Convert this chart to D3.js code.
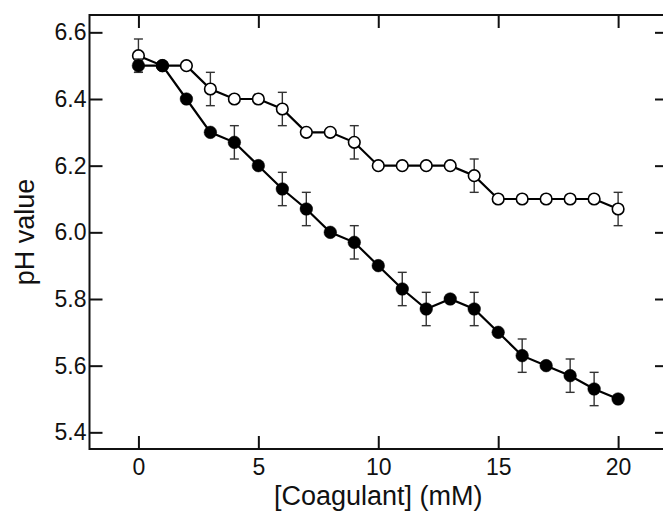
<!DOCTYPE html>
<html>
<head>
<meta charset="utf-8">
<script src="https://cdn.jsdelivr.net/npm/d3@7"></script>
<style>
  html, body { margin: 0; padding: 0; background: #fff; }
  svg { display: block; }
  text { font-family: "Liberation Sans", Arial, Helvetica, sans-serif; fill: #111; }
</style>
</head>
<body>
<svg id="chart" width="663" height="513"></svg>
<script>
// ---- data ----
const concentrations = [0,1,2,3,4,5,6,7,8,9,10,11,12,13,14,15,16,17,18,19,20];
const filledValues = [6.50,6.50,6.40,6.30,6.27,6.20,6.13,6.07,6.00,5.97,5.90,5.83,5.77,5.80,5.77,5.70,5.63,5.60,5.57,5.53,5.50];
const filledErrors = [0.02,0,0,0,0.05,0,0.05,0.05,0,0.05,0,0.05,0.05,0,0.05,0,0.05,0,0.05,0.05,0];
const openValues = [6.53,6.50,6.50,6.43,6.40,6.40,6.37,6.30,6.30,6.27,6.20,6.20,6.20,6.20,6.17,6.10,6.10,6.10,6.10,6.10,6.07];
const openErrors = [0.05,0,0,0.05,0,0,0.05,0,0,0.05,0,0,0,0,0.05,0,0,0,0,0,0.05];
const xTicks = [0,5,10,15,20];
const yTicks = [5.4,5.6,5.8,6.0,6.2,6.4,6.6];
const xTitle = "[Coagulant] (mM)";
const yTitle = "pH value";

// ---- layout ----
const svg = d3.select("#chart");
const pLeft = 89.5, pRight = 668, pTop = 15, pBottom = 449;
const x = d3.scaleLinear().domain([-2.04, 22.08]).range([pLeft, pRight]);
const y = d3.scaleLinear().domain([5.35, 6.652]).range([pBottom, pTop]);
const tickLen = 13;

// frame
svg.append("rect").attr("x", pLeft).attr("y", pTop)
  .attr("width", pRight - pLeft).attr("height", pBottom - pTop)
  .attr("fill", "none").attr("stroke", "#111").attr("stroke-width", 2);

// axes (inward ticks)
const axB = svg.append("g").attr("transform", `translate(0,${pBottom})`)
  .call(d3.axisBottom(x).tickValues(xTicks).tickSize(-tickLen).tickPadding(10).tickFormat(d3.format("d")));
const axT = svg.append("g").attr("transform", `translate(0,${pTop})`)
  .call(d3.axisTop(x).tickValues(xTicks).tickSize(-tickLen).tickFormat(""));
const axL = svg.append("g").attr("transform", `translate(${pLeft},0)`)
  .call(d3.axisLeft(y).tickValues(yTicks).tickSize(-tickLen).tickPadding(3).tickFormat(d3.format(".1f")));
const axR = svg.append("g").attr("transform", `translate(${pRight},0)`)
  .call(d3.axisRight(y).tickValues(yTicks).tickSize(-tickLen).tickFormat(""));
[axB, axT, axL, axR].forEach(g => {
  g.select(".domain").remove();
  g.selectAll(".tick line").attr("stroke", "#111").attr("stroke-width", 2);
  g.selectAll(".tick text").attr("font-size", 23).attr("fill", "#111")
    .style("font-family", '"Liberation Sans", Arial, sans-serif');
});

// titles
svg.append("text").attr("x", x(10)).attr("y", 505).attr("text-anchor", "middle")
  .attr("font-size", 27).text(xTitle);
svg.append("text").attr("transform", `translate(34,${(pTop + pBottom) / 2}) rotate(-90)`)
  .attr("text-anchor", "middle").attr("font-size", 27).text(yTitle);

// series
function drawSeries(vals, errs, filled) {
  const pts = concentrations.map((c, i) => ({ c, v: vals[i], e: errs[i] }));
  const g = svg.append("g");
  const eb = pts.filter(d => d.e > 0);
  const cap = 4.5;
  const errG = g.append("g").attr("stroke", "#333").attr("stroke-width", 1.4).attr("fill", "none");
  eb.forEach(d => {
    const x0 = x(d.c), y1 = y(d.v + d.e), y2 = y(d.v - d.e);
    errG.append("line").attr("x1", x0).attr("x2", x0).attr("y1", y1).attr("y2", y2);
    errG.append("line").attr("x1", x0 - cap).attr("x2", x0 + cap).attr("y1", y1).attr("y2", y1);
    errG.append("line").attr("x1", x0 - cap).attr("x2", x0 + cap).attr("y1", y2).attr("y2", y2);
  });
  g.append("path").datum(pts)
    .attr("d", d3.line().x(d => x(d.c)).y(d => y(d.v)))
    .attr("fill", "none").attr("stroke", "#000").attr("stroke-width", 2.2);
  g.selectAll("circle").data(pts).join("circle")
    .attr("cx", d => x(d.c)).attr("cy", d => y(d.v))
    .attr("r", filled ? 6.3 : 5.8)
    .attr("fill", filled ? "#000" : "#fff")
    .attr("stroke", "#000").attr("stroke-width", filled ? 0.5 : 1.6);
}
drawSeries(openValues, openErrors, false);
drawSeries(filledValues, filledErrors, true);
</script>
</body>
</html>
